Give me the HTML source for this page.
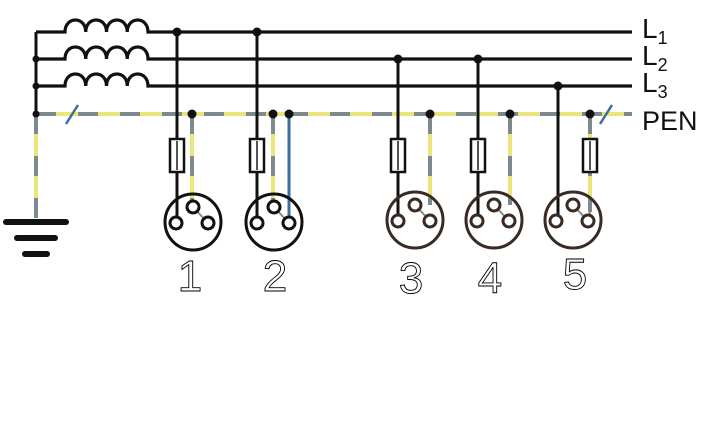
<!DOCTYPE html>
<html><head><meta charset="utf-8"><style>
html,body{margin:0;padding:0;background:#fff;width:714px;height:430px;overflow:hidden}
svg{display:block}
</style></head><body>
<svg width="714" height="430" viewBox="0 0 714 430" xmlns="http://www.w3.org/2000/svg">
<g id="g"></g>
<g font-family="Liberation Sans, sans-serif" fill="#111">
 <text x="642" y="38" font-size="28">L<tspan font-size="18" dy="6">1</tspan></text>
 <text x="642" y="65" font-size="28">L<tspan font-size="18" dy="6">2</tspan></text>
 <text x="642" y="92" font-size="28">L<tspan font-size="18" dy="6">3</tspan></text>
 <text x="642" y="130" font-size="27">PEN</text>
</g>
<g font-family="Liberation Sans, sans-serif" font-size="44" fill="none" stroke="#000" stroke-width="0.9" text-anchor="middle">
 <text x="190" y="291">1</text>
 <text x="275" y="291">2</text>
 <text x="411" y="293">3</text>
 <text x="490" y="293">4</text>
 <text x="575" y="289">5</text>
</g>
</svg>
<script>
const lineNames=['L1','L2','L3'];
const lineY=[32,59,86];
const penY=114;
const sockets=[
 {x:177,line:0,pen:[192],cx:193,cy:222,fuseOnPen:false,col:'#111',blue:null},
 {x:257,line:0,pen:[273],cx:274,cy:222,fuseOnPen:false,col:'#111',blue:289},
 {x:398,line:1,pen:[430],cx:415,cy:220,fuseOnPen:false,col:'#3a2a24',blue:null},
 {x:478,line:1,pen:[510],cx:494,cy:220,fuseOnPen:false,col:'#3a2a24',blue:null},
 {x:558,line:2,pen:[590],cx:573,cy:220,fuseOnPen:true,col:'#3a2a24',blue:null}
];
const NS='http://www.w3.org/2000/svg';
const g=document.getElementById('g');
function el(t,a,name){const e=document.createElementNS(NS,t);for(const k in a)e.setAttribute(k,a[k]);


g.appendChild(e);return e;}
function pen(x1,y1,x2,y2,name){
 el('line',{x1,y1,x2,y2,stroke:'#ebe67a','stroke-width':4},name);
 el('line',{x1,y1,x2,y2,stroke:'#7d8b8e','stroke-width':4,'stroke-dasharray':'20 22'},name+'-dash');
}
pen(36,penY,632,penY,'pen-bus');
pen(36,penY,36,218,'ground-wire');
el('line',{x1:6,y1:222,x2:66,y2:222,stroke:'#111','stroke-width':6,'stroke-linecap':'round'},'ground-bar-1');
el('line',{x1:17,y1:238,x2:55,y2:238,stroke:'#111','stroke-width':6,'stroke-linecap':'round'},'ground-bar-2');
el('line',{x1:25,y1:254,x2:47,y2:254,stroke:'#111','stroke-width':6,'stroke-linecap':'round'},'ground-bar-3');
el('line',{x1:36,y1:32,x2:36,y2:penY,stroke:'#111','stroke-width':3},'star-point-wire');
[59,86,114].forEach((y,i)=>el('circle',{cx:36,cy:y,r:3.5,fill:'#111'},'star-dot'));
el('line',{x1:66,y1:124,x2:78,y2:105,stroke:'#3a6fa0','stroke-width':2.5},'pen-tick-left');
el('line',{x1:600,y1:124,x2:612,y2:105,stroke:'#3a6fa0','stroke-width':2.5},'pen-tick-right');
lineY.forEach((y,i)=>{
 let d=`M36 ${y} L65 ${y}`;
 for(let k=0;k<4;k++){const x=65+k*20.75;d+=` C${x} ${y-16} ${x+20.75} ${y-16} ${x+20.75} ${y}`;}
 d+=` L632 ${y}`;
 el('path',{d,fill:'none',stroke:'#111','stroke-width':3.2},'phase-line-'+lineNames[i].toLowerCase());
});
sockets.forEach((s,i)=>{
 const n='socket-'+(i+1);
 const ly=lineY[s.line];
 const lx=s.cx-17, rx=s.cx+15, ty=s.cy-15, sy=s.cy+1;
 s.pen.forEach(px=>{
  if(s.fuseOnPen){
   pen(px,penY,px,s.cy-8,n+'-pe-wire');
   el('line',{x1:px,y1:s.cy-8,x2:rx,y2:s.cy,stroke:'#b08060','stroke-width':2},n+'-pe-lead');
  } else pen(px,penY,px,ty,n+'-pe-wire');
  el('circle',{cx:px,cy:penY,r:4.5,fill:'#111'},n+'-pen-dot');
 });
 if(s.blue){
  el('line',{x1:s.blue,y1:penY,x2:s.blue,y2:sy,stroke:'#3a6fa0','stroke-width':3},n+'-blue-wire');
  el('circle',{cx:s.blue,cy:penY,r:4.5,fill:'#111'},n+'-pen-dot-2');
 }
 el('line',{x1:s.x,y1:ly,x2:s.x,y2:s.cy-2,stroke:'#111','stroke-width':3},n+'-phase-wire');
 el('path',{d:`M${s.x} ${s.cy-2} L${lx} ${sy-4}`,fill:'none',stroke:s.col,'stroke-width':2},n+'-phase-lead');
 el('circle',{cx:s.x,cy:ly,r:4.5,fill:'#111'},n+'-tap-dot');
 const fx=s.fuseOnPen?s.pen[0]:s.x;
 el('rect',{x:fx-7,y:139,width:14,height:33,fill:'#fff',stroke:'#111','stroke-width':2.5},n+'-fuse');
 el('line',{x1:fx,y1:141,x2:fx,y2:170,stroke:'#555','stroke-width':2},n+'-fuse-core');
 el('circle',{cx:s.cx,cy:s.cy,r:28,fill:'none',stroke:s.col,'stroke-width':3},n+'-body');
 el('line',{x1:s.cx,y1:ty,x2:rx,y2:sy,stroke:'#7d8b8e','stroke-width':2},n+'-bridge');
 [[s.cx,ty],[lx,sy],[rx,sy]].forEach((p,j)=>el('circle',{cx:p[0],cy:p[1],r:6,fill:'#fff',stroke:s.col,'stroke-width':3},n+'-pin-'+(j+1)));
});
</script>
</body></html>
